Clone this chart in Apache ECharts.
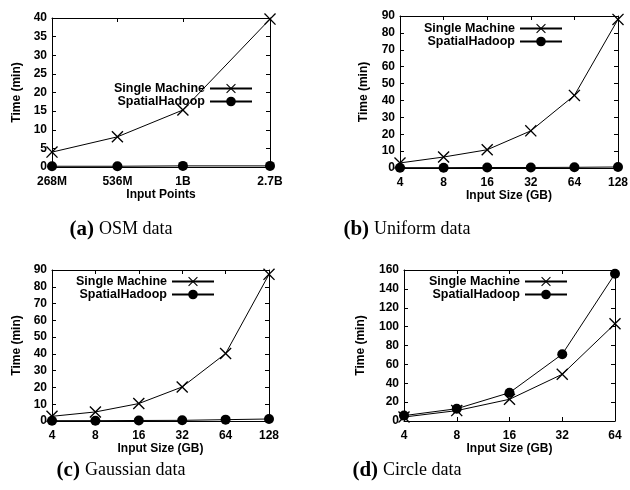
<!DOCTYPE html>
<html>
<head>
<meta charset="utf-8">
<script src="https://cdn.jsdelivr.net/npm/echarts@6/dist/echarts.min.js"></script>
<style>
    html, body { margin: 0; padding: 0; background: #fff; }
    #chart { width: 630px; height: 490px; }
</style>
</head>
<body>
<div id="chart"></div>
<script>
// (a) OSM data, x positions in millions of points
const osmPoints = [268, 536, 1073, 2700];
const osmLabels = ["268M", "536M", "1B", "2.7B"];
const osmSingle = [4.0, 8.1, 15.3, 39.7];
const osmHadoop = [0.2, 0.2, 0.3, 0.3];

// (b) uniform / (c) gaussian, input size in GB
const sizeLabels = ["4", "8", "16", "32", "64", "128"];
const uniformSingle = [3.0, 6.5, 10.8, 22.0, 43.0, 88.0];
const uniformHadoop = [0.2, 0.2, 0.3, 0.3, 0.4, 0.6];
const gaussSingle = [2.8, 5.4, 10.4, 20.3, 40.2, 87.4];
const gaussHadoop = [0.2, 0.2, 0.3, 0.4, 0.8, 1.2];

// (d) circle
const circleLabels = ["4", "8", "16", "32", "64"];
const circleSingle = [4.2, 11.0, 23.0, 49.5, 103.0];
const circleHadoop = [5.7, 13.0, 30.0, 70.8, 156.0];

const captions = [
    { tag: "(a)", text: "OSM data" },
    { tag: "(b)", text: "Uniform data" },
    { tag: "(c)", text: "Gaussian data" },
    { tag: "(d)", text: "Circle data" },
];

const FONT = "Liberation Sans";
const CROSS = "path://M0,8L8,0L50,42L92,0L100,8L58,50L100,92L92,100L50,58L8,100L0,92L42,50Z";

// plot boxes in pixels
const panels = [
    { left: 52, top: 18, width: 218, height: 149, yMax: 40, yStep: 5, yGap: 29, xName: "Input Points", legendRight: 377, legendTop: 82 },
    { left: 400, top: 16, width: 218, height: 152, yMax: 90, yStep: 10, yGap: 30, xName: "Input Size (GB)", legendRight: 67, legendTop: 22 },
    { left: 52, top: 270, width: 217, height: 151, yMax: 90, yStep: 10, yGap: 29, xName: "Input Size (GB)", legendRight: 415, legendTop: 275 },
    { left: 404, top: 270, width: 211, height: 151, yMax: 160, yStep: 20, yGap: 37, xName: "Input Size (GB)", legendRight: 62, legendTop: 275 },
];

const labelStyle = { color: "#000", fontFamily: FONT, fontWeight: "bold", fontSize: 12 };
const lineStyle = { color: "#000", width: 1 };

const log2 = v => Math.log(v) / Math.LN2;
const osmX = osmPoints.map(log2);

const grids = [];
const xAxes = [];
const yAxes = [];
const series = [];
const legends = [];
const titles = [];

const xAxisBase = (i, mirror) => {
    const axis = {
        gridIndex: i,
        position: mirror ? "top" : "bottom",
        axisLine: { show: true, onZero: false, lineStyle },
        axisTick: { show: true, inside: true, length: 4, lineStyle },
        axisLabel: Object.assign({ show: !mirror, margin: 9 }, labelStyle),
        splitLine: { show: false },
    };
    if (i === 0) {
        axis.type = "value";
        axis.min = osmX[0];
        axis.max = osmX[osmX.length - 1];
        axis.axisTick.customValues = osmX;
        axis.axisLabel.customValues = osmX;
        axis.axisLabel.formatter = value => {
            let best = 0;
            osmX.forEach((x, k) => {
                if (Math.abs(x - value) < Math.abs(osmX[best] - value)) best = k;
            });
            return osmLabels[best];
        };
    } else {
        axis.type = "category";
        axis.boundaryGap = false;
        axis.data = i === 3 ? circleLabels : sizeLabels;
    }
    if (!mirror) {
        axis.name = panels[i].xName;
        axis.nameLocation = "middle";
        axis.nameGap = 20;
        axis.nameTextStyle = labelStyle;
    }
    return axis;
};

const yAxisBase = (i, mirror) => {
    const p = panels[i];
    const axis = {
        type: "value",
        gridIndex: i,
        position: mirror ? "right" : "left",
        min: 0,
        max: p.yMax,
        interval: p.yStep,
        axisLine: { show: true, lineStyle },
        axisTick: { show: true, inside: true, length: 4, lineStyle },
        axisLabel: Object.assign({ show: !mirror, margin: 5 }, labelStyle),
        splitLine: { show: false },
    };
    if (!mirror) {
        axis.name = "Time (min)";
        axis.nameLocation = "middle";
        axis.nameGap = p.yGap;
        axis.nameTextStyle = labelStyle;
    }
    return axis;
};

const lineSeries = (i, name, data) => ({
    name,
    type: "line",
    xAxisIndex: i * 2,
    yAxisIndex: i * 2,
    data,
    symbol: name === "Single Machine" ? CROSS : "circle",
    symbolSize: name === "Single Machine" ? 12 : 10,
    showSymbol: true,
    lineStyle,
    itemStyle: { color: "#000" },
    z: name === "Single Machine" ? 3 : 4,
    animation: false,
});

panels.forEach((p, i) => {
    grids.push({ left: p.left, top: p.top, width: p.width, height: p.height, outerBoundsMode: "none", containLabel: false });
    xAxes.push(xAxisBase(i, false), xAxisBase(i, true));
    yAxes.push(yAxisBase(i, false), yAxisBase(i, true));

    ["Single Machine", "SpatialHadoop"].forEach((name, k) => {
        legends.push({
            data: [name],
            right: p.legendRight,
            top: p.legendTop + k * 13,
            padding: 0,
            align: "right",
            itemWidth: 42,
            itemHeight: 12,
            selectedMode: false,
            textStyle: Object.assign({}, labelStyle, { fontSize: 12.5 }),
        });
    });

    const c = captions[i];
    titles.push({
        text: `{tag|${c.tag}} {txt|${c.text}}`,
        left: i % 2 === 0 ? 116 : 402,
        top: i < 2 ? 214 : 455,
        textAlign: "center",
        textStyle: {
            fontWeight: "normal",
            rich: {
                tag: { fontFamily: "Liberation Serif", fontWeight: "bold", fontSize: 21, color: "#000" },
                txt: { fontFamily: "Liberation Serif", fontWeight: "normal", fontSize: 18, color: "#000" },
            },
        },
    });
});

const toPairs = (xs, ys) => xs.map((x, k) => [x, ys[k]]);

series.push(
    lineSeries(0, "Single Machine", toPairs(osmX, osmSingle)),
    lineSeries(0, "SpatialHadoop", toPairs(osmX, osmHadoop)),
    lineSeries(1, "Single Machine", uniformSingle),
    lineSeries(1, "SpatialHadoop", uniformHadoop),
    lineSeries(2, "Single Machine", gaussSingle),
    lineSeries(2, "SpatialHadoop", gaussHadoop),
    lineSeries(3, "Single Machine", circleSingle),
    lineSeries(3, "SpatialHadoop", circleHadoop)
);

const myChart = echarts.init(document.getElementById("chart"));
myChart.setOption({
    backgroundColor: "#fff",
    animation: false,
    title: titles,
    legend: legends,
    grid: grids,
    xAxis: xAxes,
    yAxis: yAxes,
    series,
});
</script>
</body>
</html>
